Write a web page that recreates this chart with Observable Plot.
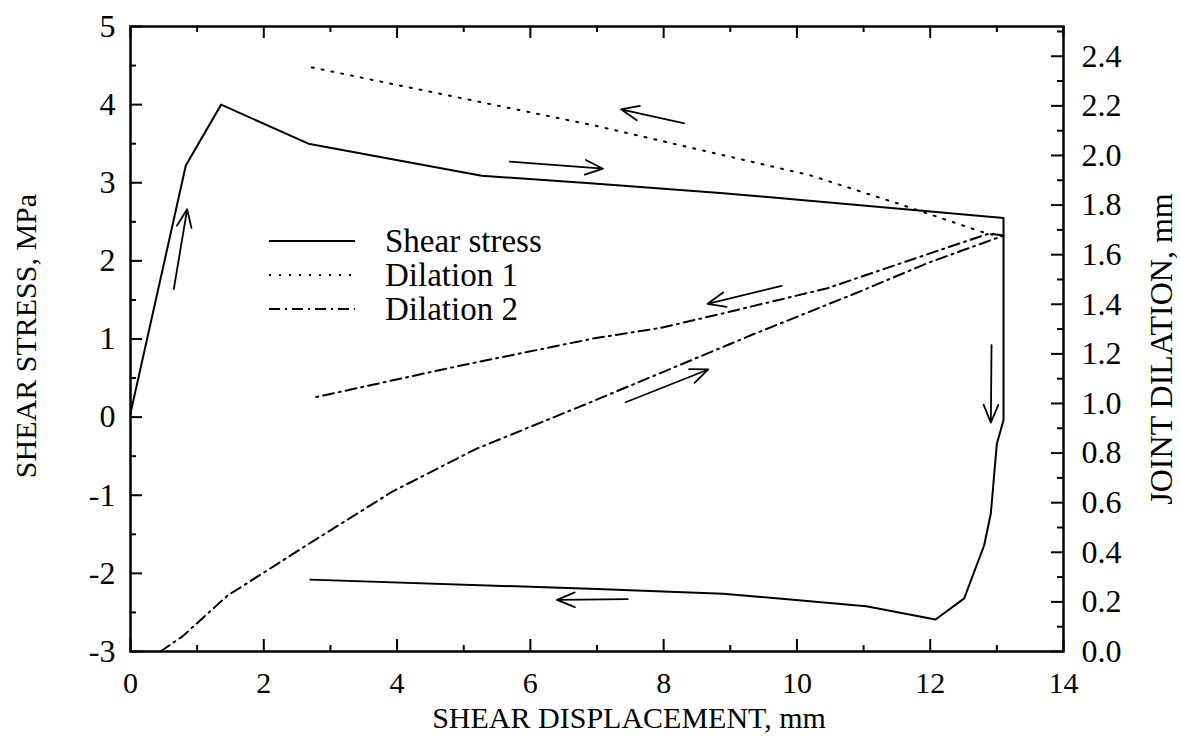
<!DOCTYPE html>
<html>
<head>
<meta charset="utf-8">
<script src="https://cdn.jsdelivr.net/npm/d3@7"></script>
<script src="https://cdn.jsdelivr.net/npm/@observablehq/plot@0.6"></script>
<style>
  html, body { margin: 0; padding: 0; background: #fff; }
  #wrap { position: relative; width: 1180px; height: 747px; font-family: "Liberation Serif", "Times New Roman", serif; }
  #legend { position: absolute; left: 0; top: 0; pointer-events: none; }
</style>
</head>
<body>
<div id="wrap"></div>
<script>
// ---------- data ----------
const shearDisp   = [0, 0.83, 1.36, 2.67, 5.27, 6.95, 8.85, 11.75, 13.1, 13.1, 13.0, 12.91, 12.81, 12.51, 12.08, 11.04, 8.89, 7.0, 2.7];
const shearStress = [0.05, 3.22, 4.0, 3.5, 3.09, 2.99, 2.87, 2.65, 2.55, -0.04, -0.34, -1.23, -1.64, -2.32, -2.59, -2.42, -2.26, -2.2, -2.08];

const dil1Disp = [2.72, 6.94, 10.19, 11.55, 12.85, 13.05];
const dil1Val  = [2.355, 2.122, 1.921, 1.803, 1.685, 1.675];

const dil2FwdDisp = [0.45, 0.78, 1.45, 2.64, 3.93, 5.18, 6.92, 9.31, 10.96, 11.95, 13.1];
const dil2FwdVal  = [0.0, 0.061, 0.224, 0.428, 0.645, 0.816, 1.007, 1.275, 1.453, 1.565, 1.677];

const dil2RetDisp = [13.1, 12.88, 11.95, 10.46, 8.96, 7.96, 6.96, 4.92, 2.72];
const dil2RetVal  = [1.677, 1.685, 1.601, 1.465, 1.368, 1.305, 1.263, 1.151, 1.022];

// direction arrows: start (x1, y1) -> end (x2, y2), in displacement / shear-stress units
const arrowX1 = [0.65, 5.69, 8.31, 9.77, 7.43, 12.92, 7.46];
const arrowY1 = [1.64, 3.27, 3.76, 1.68, 0.19, 0.92, -2.33];
const arrowX2 = [0.85, 7.09, 7.36, 8.66, 8.67, 12.91, 6.40];
const arrowY2 = [2.66, 3.18, 3.94, 1.45, 0.61, -0.07, -2.34];

const xTicks = [0, 2, 4, 6, 8, 10, 12, 14];
const xMinorTicks = [1, 3, 5, 7, 9, 11, 13];
const stressTicks = [-3, -2, -1, 0, 1, 2, 3, 4, 5];
const stressMinorTicks = [-2.5, -1.5, -0.5, 0.5, 1.5, 2.5, 3.5, 4.5];
const dilationTicks = [0, 0.2, 0.4, 0.6, 0.8, 1.0, 1.2, 1.4, 1.6, 1.8, 2.0, 2.2, 2.4];
const dilationMinorTicks = [0.1, 0.3, 0.5, 0.7, 0.9, 1.1, 1.3, 1.5, 1.7, 1.9, 2.1, 2.3, 2.5];

const xDomain = [0, 14];
const stressDomain = [-3, 5];
const dilationDomain = [0, 2.52];

const seriesNames = ["Shear stress", "Dilation 1", "Dilation 2"];
const xTitle = "SHEAR DISPLACEMENT, mm";
const yTitle = "SHEAR STRESS, MPa";
const y2Title = "JOINT DILATION, mm";

// ---------- helpers ----------
// right axis (dilation) shares the frame with the stress axis
const toStress = d => stressDomain[0] + (d - dilationDomain[0]) * (stressDomain[1] - stressDomain[0]) / (dilationDomain[1] - dilationDomain[0]);
const toDil = s => dilationDomain[0] + (s - stressDomain[0]) * (dilationDomain[1] - dilationDomain[0]) / (stressDomain[1] - stressDomain[0]);

const shear = shearDisp.map((x, i) => ({x, y: shearStress[i]}));
const dil1 = dil1Disp.map((x, i) => ({x, y: toStress(dil1Val[i])}));
const dil2Fwd = dil2FwdDisp.map((x, i) => ({x, y: toStress(dil2FwdVal[i])}));
const dil2Ret = dil2RetDisp.map((x, i) => ({x, y: toStress(dil2RetVal[i])}));
const arrows = arrowX1.map((x1, i) => ({x1, y1: arrowY1[i], x2: arrowX2[i], y2: arrowY2[i]}));

const W = 1180, H = 747;
const mL = 130, mR = 117, mT = 26, mB = 96;
const innerW = W - mL - mR, innerH = H - mT - mB;
const MAJ = 12, MIN = 6;

const dotDash = "2,8";
const dashDot = "11,5,2,5";
const serif = '"Liberation Serif", "Times New Roman", serif';

const chart = Plot.plot({
  width: W, height: H,
  marginLeft: mL, marginRight: mR, marginTop: mT, marginBottom: mB,
  x: {domain: xDomain},
  y: {domain: stressDomain},
  style: {fontFamily: serif, color: "#000", background: "#fff", overflow: "visible"},
  marks: [
    // tick labels
    Plot.axisX(xTicks, {anchor: "bottom", tickSize: 0, tickPadding: 20, fontSize: 30, label: null, tickFormat: d => String(d)}),
    Plot.axisY(stressTicks, {anchor: "left", tickSize: 0, tickPadding: 15, fontSize: 32, label: null, tickFormat: d => String(d)}),
    Plot.axisY(dilationTicks.map(toStress), {anchor: "right", tickSize: 0, tickPadding: 18, fontSize: 32, label: null, tickFormat: s => toDil(s).toFixed(1)}),
    // inward ticks
    Plot.tickX(xTicks, {x: d => d, insetTop: innerH - MAJ, strokeWidth: 2}),
    Plot.tickX(xMinorTicks, {x: d => d, insetTop: innerH - MIN, strokeWidth: 2}),
    Plot.tickX(xTicks, {x: d => d, insetBottom: innerH - MAJ, strokeWidth: 2}),
    Plot.tickX(xMinorTicks, {x: d => d, insetBottom: innerH - MIN, strokeWidth: 2}),
    Plot.tickY(stressTicks, {y: d => d, insetRight: innerW - MAJ, strokeWidth: 2}),
    Plot.tickY(stressMinorTicks, {y: d => d, insetRight: innerW - MIN, strokeWidth: 2}),
    Plot.tickY(dilationTicks, {y: d => toStress(d), insetLeft: innerW - MAJ, strokeWidth: 2}),
    Plot.tickY(dilationMinorTicks, {y: d => toStress(d), insetLeft: innerW - MIN, strokeWidth: 2}),
    // series
    Plot.line(shear, {x: "x", y: "y", stroke: "#000", strokeWidth: 2}),
    Plot.line(dil1, {x: "x", y: "y", stroke: "#000", strokeWidth: 2, strokeDasharray: dotDash}),
    Plot.line(dil2Fwd, {x: "x", y: "y", stroke: "#000", strokeWidth: 2, strokeDasharray: dashDot}),
    Plot.line(dil2Ret, {x: "x", y: "y", stroke: "#000", strokeWidth: 2, strokeDasharray: dashDot}),
    // direction arrows
    Plot.arrow(arrows, {x1: "x1", y1: "y1", x2: "x2", y2: "y2", stroke: "#000", strokeWidth: 1.8, headAngle: 45, headLength: 16}),
    // frame
    Plot.frame({stroke: "#000", strokeWidth: 2.5}),
    // axis titles
    Plot.text([xTitle], {frameAnchor: "bottom", text: d => d, dx: 32, dy: 67, fontSize: 30, textAnchor: "middle", lineAnchor: "middle"}),
    Plot.text([yTitle], {frameAnchor: "left", text: d => d, dx: -104, dy: -3, rotate: -90, fontSize: 30, textAnchor: "middle", lineAnchor: "middle"}),
    Plot.text([y2Title], {frameAnchor: "right", text: d => d, dx: 98, dy: 10, rotate: -90, fontSize: 32, textAnchor: "middle", lineAnchor: "middle"})
  ]
});

const wrap = document.getElementById("wrap");
wrap.appendChild(chart);

// legend (inside the frame, upper left)
const leg = d3.select(wrap).append("svg")
  .attr("id", "legend")
  .attr("width", W).attr("height", H);
const dashes = [null, dotDash, dashDot];
seriesNames.forEach((name, i) => {
  const cy = 241 + i * 34;
  leg.append("line")
    .attr("x1", 269).attr("x2", 355).attr("y1", cy).attr("y2", cy)
    .attr("stroke", "#000").attr("stroke-width", 2)
    .attr("stroke-dasharray", dashes[i]);
  leg.append("text")
    .attr("x", 385).attr("y", cy).attr("dy", "0.34em")
    .attr("font-family", serif)
    .attr("font-size", 33).attr("fill", "#000")
    .text(name);
});
</script>
</body>
</html>
